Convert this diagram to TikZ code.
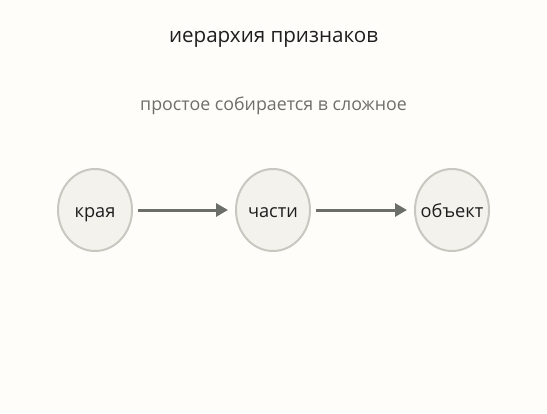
\documentclass[tikz,border=0pt]{standalone}
\usepackage{fontspec}
\setmainfont{Open Sans}
\usetikzlibrary{arrows.meta,shapes.geometric}
\definecolor{bg}{HTML}{FEFDF9}
\definecolor{nodefill}{HTML}{F4F2EC}
\definecolor{nodeline}{HTML}{C8C7C0}
\definecolor{arrowc}{HTML}{6B6E69}
\definecolor{subc}{HTML}{6E6E6A}
\definecolor{titlec}{HTML}{1E1E1E}
\newcommand{\featlabel}[1]{\makebox[0pt]{#1}}
\begin{document}
\begin{tikzpicture}[x=1pt,y=-1pt,
  feat/.style={ellipse,draw=nodeline,fill=nodefill,line width=2pt,minimum width=74pt,minimum height=82pt,inner sep=0pt,text height=14pt,text depth=0pt,font=\fontsize{18.2}{20}\selectfont,text=titlec},
  link/.style={draw=arrowc,line width=3pt,-{Triangle[length=12pt,width=13pt]},shorten <=5pt,shorten >=7pt}]
\fill[bg] (0,0) rectangle (547,413);
\useasboundingbox (0,0) rectangle (547,413);
\node[anchor=base,inner sep=0pt,text=titlec,font=\fontsize{20.6}{24}\selectfont] (title) at (273.5,42.5) {иерархия признаков};
\node[anchor=base,inner sep=0pt,text=subc,font=\fontsize{17.8}{20}\selectfont] (sub) at (273.5,110.5) {простое собирается в сложное};
\node[feat] (a) at (95,210) {\featlabel{края}};
\node[feat] (b) at (273,210) {\featlabel{части}};
\node[feat] (c) at (452,210) {\featlabel{объект}};
\draw[link] (a) -- (b);
\draw[link] (b) -- (c);
\end{tikzpicture}
\end{document}
